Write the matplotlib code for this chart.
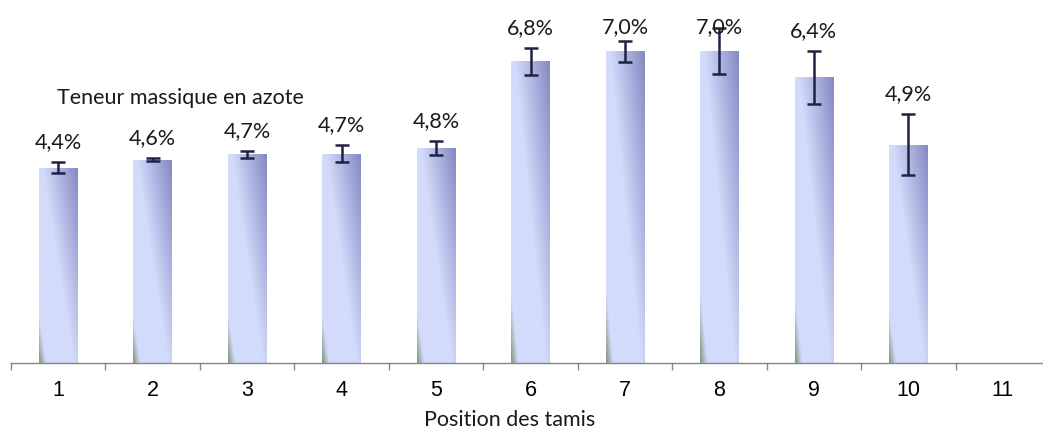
import matplotlib
matplotlib.use('agg')
import matplotlib.pyplot as plt
import numpy as np
from matplotlib.colors import to_rgb

# data
positions = [1, 2, 3, 4, 5, 6, 7, 8, 9, 10, 11]
teneur = [4.4, 4.58, 4.7, 4.72, 4.84, 6.8, 7.02, 7.04, 6.44, 4.92]
erreur = [0.12, 0.03, 0.08, 0.19, 0.16, 0.30, 0.24, 0.52, 0.60, 0.69]
titre = "Teneur massique en azote"
xlabel = "Position des tamis"

W, H = 1043, 430
fig = plt.figure(figsize=(W / 100, H / 100), dpi=100)
# axis line spans 11 px -> 1050 px, baseline at 363 px, 44.4 px per %
ax = fig.add_axes([11 / W, (H - 363) / H, 1039 / W, 355 / H])

c_green = np.array(to_rgb('#84977f'))
c_light = np.array(to_rgb('#d3dbfb'))
c_dark = np.array(to_rgb('#8589c3'))


def bar_gradient(nx=40, ny=80):
    u = np.linspace(0, 1, nx)[None, :]
    v = np.linspace(1, 0, ny)[:, None]
    d = 0.55 * u + 0.45 * v
    img = np.zeros((ny, nx, 3))
    for k in range(3):
        a = np.interp(d, [0.0, 0.1], [c_green[k], c_light[k]])
        b = np.interp(d, [0.5, 1.0], [c_light[k], c_dark[k]])
        img[..., k] = np.where(d < 0.3, a, b)
    return img


bw = 0.41
xs = positions[:len(teneur)]
grad = bar_gradient()
bars = ax.bar(xs, teneur, width=bw, color='none', edgecolor='none', zorder=2)
for b in bars:
    x0 = b.get_x()
    im = ax.imshow(grad, extent=[x0, x0 + bw, 0, b.get_height()],
                   aspect='auto', interpolation='bilinear', zorder=2)
    im.set_clip_path(b)

ax.errorbar(xs, teneur, yerr=erreur, fmt='none', ecolor='#1f2244',
            elinewidth=1.8, capsize=4.7, capthick=1.8, zorder=3)

# labels sit above the error bar, pushed down to stay inside the chart
y_max_label = 7.57
for x, v, e in zip(xs, teneur, erreur):
    y = min(v + e + 0.45, y_max_label)
    ax.text(x, y, f"{v:.1f}%".replace('.', ','), ha='center', va='center',
            fontsize=15.5, family='Lato', color='#1a1a1a', zorder=4)

ax.set_xlim(0.5, 11.5)
ax.set_ylim(0, 8)
for s in ['left', 'right', 'top']:
    ax.spines[s].set_visible(False)
ax.spines['bottom'].set_color('#868686')
ax.spines['bottom'].set_linewidth(1.0)
ax.set_yticks([])
ax.set_xticks(positions)
ax.set_xticklabels([str(p) for p in positions], fontsize=15.5,
                   family='Liberation Sans')
ax.set_xticks(np.arange(0.5, 12, 1), minor=True)
ax.tick_params(axis='x', which='major', length=0, pad=12.5)
ax.tick_params(axis='x', which='minor', length=5, width=1.0,
               color='#868686', direction='out')

fig.text(57 / W, 1 - 98 / H, titre, ha='left', va='center',
         fontsize=15.5, family='Lato', color='#1a1a1a')
fig.text(510 / W, 1 - 420 / H, xlabel, ha='center', va='center',
         fontsize=15.5, family='Lato', color='#1a1a1a')

fig.savefig('out.png', dpi=100)
